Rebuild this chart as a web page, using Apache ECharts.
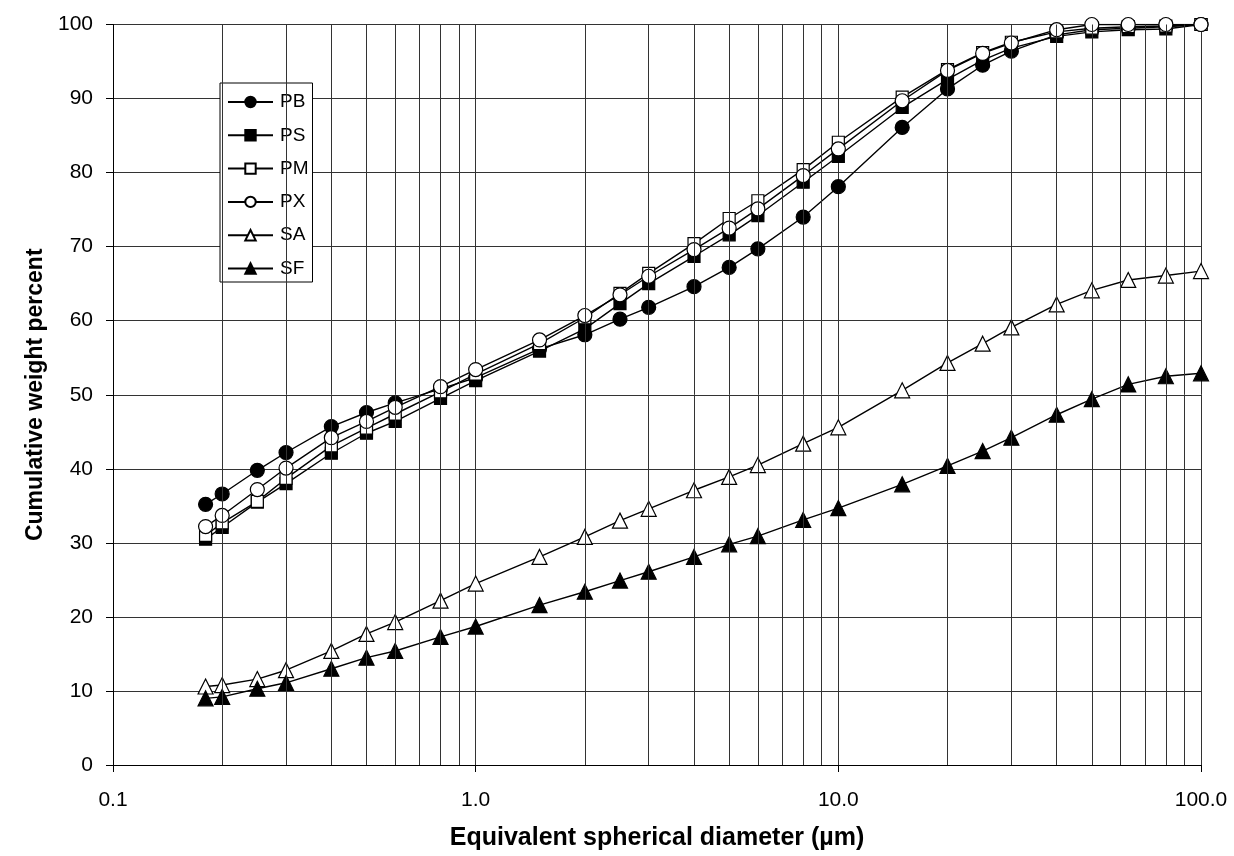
<!DOCTYPE html>
<html>
<head>
<meta charset="utf-8">
<script src="https://cdn.jsdelivr.net/npm/echarts@6/dist/echarts.min.js"></script>
<style>
html,body{margin:0;padding:0;background:#fff;}
#chart{width:1234px;height:856px;}
</style>
</head>
<body>
<div id="chart"></div>
<script>
const diameters = [0.18, 0.2, 0.25, 0.3, 0.4, 0.5, 0.6, 0.8, 1, 1.5, 2, 2.5, 3, 4, 5, 6, 8, 10, 15, 20, 25, 30, 40, 50, 63, 80, 100];
const PB = [35.2, 36.6, 39.8, 42.2, 45.7, 47.6, 48.9, 50.8, 52.3, 56.2, 58.1, 60.2, 61.8, 64.6, 67.2, 69.7, 74.0, 78.1, 86.1, 91.3, 94.5, 96.4, 98.6, 99.3, 99.5, 99.7, 100];
const PS = [30.5, 32.1, 35.5, 38.0, 42.1, 44.8, 46.4, 49.5, 51.9, 55.9, 58.9, 62.3, 65.0, 68.7, 71.6, 74.2, 78.7, 82.2, 88.8, 92.6, 95.2, 96.8, 98.4, 99.0, 99.3, 99.4, 100];
const PM = [31.0, 32.7, 35.6, 38.7, 43.1, 45.5, 47.4, 50.4, 52.8, 56.9, 60.4, 63.7, 66.4, 70.4, 73.8, 76.2, 80.4, 84.1, 90.2, 93.9, 96.2, 97.6, 99.0, 99.5, 99.7, 99.8, 100];
const PX = [32.2, 33.7, 37.2, 40.1, 44.2, 46.4, 48.3, 51.1, 53.4, 57.4, 60.7, 63.5, 66.0, 69.6, 72.5, 75.1, 79.6, 83.2, 89.7, 93.8, 96.1, 97.5, 99.3, 100, 100, 100, 100];
const SA = [10.6, 10.8, 11.6, 12.8, 15.4, 17.7, 19.3, 22.2, 24.5, 28.1, 30.8, 33.0, 34.6, 37.1, 38.9, 40.5, 43.4, 45.6, 50.6, 54.3, 56.9, 59.1, 62.2, 64.1, 65.5, 66.1, 66.7];
const SF = [9.0, 9.2, 10.3, 11.1, 13.0, 14.5, 15.4, 17.3, 18.7, 21.6, 23.4, 24.9, 26.1, 28.1, 29.8, 30.9, 33.1, 34.7, 37.9, 40.4, 42.4, 44.2, 47.3, 49.4, 51.4, 52.5, 52.9];
const minorGrid = [0.2, 0.3, 0.4, 0.5, 0.6, 0.7, 0.8, 0.9, 2, 3, 4, 5, 6, 7, 8, 9, 20, 30, 40, 50, 60, 70, 80, 90];
const xTitle = 'Equivalent spherical diameter (µm)';
const yTitle = 'Cumulative weight percent';

const FONT = '"Liberation Sans", Arial, sans-serif';
const GRID_COLOR = '#333';

function pairs(ys) { return diameters.map((d, i) => [d, ys[i]]); }

const styles = [
  { name: 'PB', data: PB, symbol: 'circle', size: 14, fill: '#000' },
  { name: 'PS', data: PS, symbol: 'rect', size: 12, fill: '#000' },
  { name: 'PM', data: PM, symbol: 'rect', size: 12, fill: '#fff' },
  { name: 'PX', data: PX, symbol: 'circle', size: 14, fill: '#fff' },
  { name: 'SA', data: SA, symbol: 'triangle', size: 15, fill: '#fff' },
  { name: 'SF', data: SF, symbol: 'triangle', size: 15, fill: '#000' }
];

const series = [{
  name: '_grid',
  type: 'line',
  data: [],
  z: 1,
  silent: true,
  markLine: {
    silent: true,
    symbol: ['none', 'none'],
    label: { show: false },
    lineStyle: { color: GRID_COLOR, width: 1, type: 'solid' },
    emphasis: { disabled: true },
    animation: false,
    data: minorGrid.map(v => ({ xAxis: v }))
  }
}].concat(styles.map(s => ({
  name: s.name,
  type: 'line',
  z: 3,
  data: pairs(s.data),
  symbol: s.symbol,
  symbolSize: s.size,
  showAllSymbol: true,
  lineStyle: { color: '#000', width: 1.4 },
  itemStyle: { color: s.fill, borderColor: '#000', borderWidth: 1.2 },
  emphasis: { disabled: true }
})));

const chart = echarts.init(document.getElementById('chart'), null, { renderer: 'canvas' });
chart.setOption({
  animation: false,
  backgroundColor: '#fff',
  textStyle: { fontFamily: FONT, color: '#000' },
  grid: { left: 113, right: 33, top: 24.5, bottom: 90.5, containLabel: false },
  legend: {
    orient: 'vertical',
    left: 220,
    top: 83,
    data: styles.map(s => s.name),
    backgroundColor: '#fff',
    borderColor: '#000',
    borderWidth: 1,
    borderRadius: 0,
    padding: [9.5, 4, 4, 7],
    itemWidth: 45,
    itemHeight: 13,
    itemGap: 14.3,
    textStyle: { fontFamily: FONT, fontSize: 19, color: '#000', padding: [0, 0, 0, 2] }
  },
  xAxis: {
    type: 'log',
    logBase: 10,
    min: 0.1,
    max: 100,
    name: xTitle,
    nameLocation: 'middle',
    nameGap: 61,
    nameTextStyle: { fontFamily: FONT, fontSize: 25, fontWeight: 'bold', color: '#000' },
    axisLine: { show: true, onZero: false, lineStyle: { color: '#000', width: 1 } },
    axisTick: { show: true, length: 7, lineStyle: { color: '#000' } },
    axisLabel: { fontFamily: FONT, fontSize: 21, color: '#000', margin: 25,
      formatter: v => Number(v).toFixed(1) },
    splitLine: { show: true, lineStyle: { color: GRID_COLOR, width: 1 } },
    minorTick: { show: false }
  },
  yAxis: {
    type: 'value',
    min: 0,
    max: 100,
    interval: 10,
    name: yTitle,
    nameLocation: 'middle',
    nameGap: 63,
    nameTextStyle: { fontFamily: FONT, fontSize: 23, fontWeight: 'bold', color: '#000' },
    axisLine: { show: true, lineStyle: { color: '#000', width: 1 } },
    axisTick: { show: true, length: 7, lineStyle: { color: '#000' } },
    axisLabel: { fontFamily: FONT, fontSize: 21, color: '#000', margin: 20 },
    splitLine: { show: true, lineStyle: { color: GRID_COLOR, width: 1 } }
  },
  series: series
});
</script>
</body>
</html>
